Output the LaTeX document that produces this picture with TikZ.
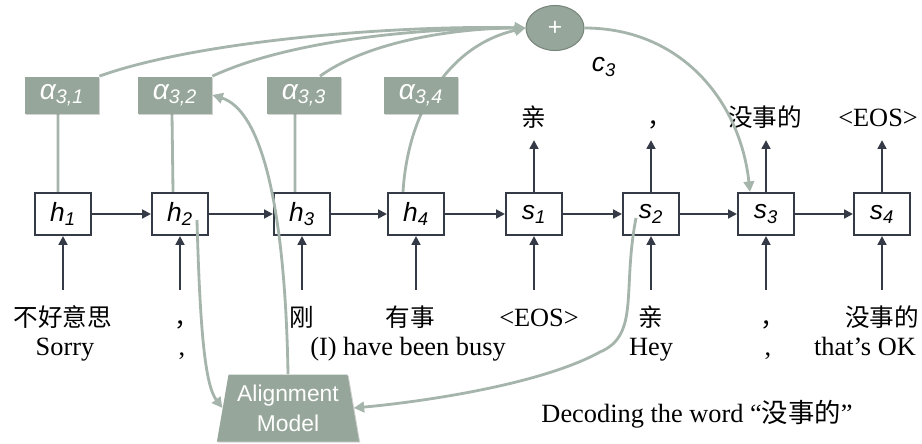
\documentclass[tikz,border=0pt]{standalone}
\usepackage{fontspec}
\setmainfont{Liberation Serif}
\setsansfont{Liberation Sans}
\newfontfamily\cjk{Noto Sans CJK SC}
\usepackage{xcolor}
\usepackage{tikz}
\usetikzlibrary{arrows.meta, shapes.geometric, shadows, backgrounds}

\definecolor{boxgray}{RGB}{150,166,154}
\definecolor{linegray}{RGB}{166,181,171}
\definecolor{darkline}{RGB}{52,58,70}

\begin{document}
\begin{tikzpicture}[x=0.02cm, y=-0.02cm,
  cell/.style={draw=darkline, line width=1.2pt, fill=white, inner sep=0pt,
    minimum width=1.12cm, minimum height=0.84cm,
    font=\sffamily\itshape\fontsize{15}{18}\selectfont},
  weight/.style={fill=boxgray, text=white, inner sep=0pt,
    minimum width=1.48cm, minimum height=0.74cm,
    font=\sffamily\itshape\fontsize{16}{19}\selectfont,
    drop shadow={shadow xshift=0.7pt, shadow yshift=-0.7pt, opacity=0.35}},
  sumnode/.style={ellipse, fill=boxgray, draw=boxgray!80!black, line width=0.6pt,
    minimum width=1.16cm, minimum height=0.9cm, text=white,
    font=\sffamily\fontsize{14}{16}\selectfont},
  model/.style={trapezium, trapezium stretches=true, trapezium left angle=78,
    trapezium right angle=78, fill=boxgray, text=white, align=center,
    minimum width=2.86cm, minimum height=1.34cm, inner sep=0pt,
    font=\sffamily\fontsize{13}{17}\selectfont,
    drop shadow={shadow xshift=0.7pt, shadow yshift=-0.7pt, opacity=0.35}},
  word/.style={anchor=base, inner sep=0pt, text height=10pt, text depth=3pt,
    font=\fontsize{15}{17}\selectfont},
  cword/.style={word, font=\cjk\fontsize{14}{16}\selectfont},
  darr/.style={draw=darkline, line width=1.2pt, -{Triangle[length=5pt,width=5pt]}},
  gline/.style={draw=linegray, line width=1.6pt},
  garr/.style={gline, -{Triangle[length=6pt,width=6pt]}}]
  \useasboundingbox (0,0) rectangle (922,443);

  % encoder cells h and decoder cells s
  \foreach \n/\x in {1/63, 2/180, 3/302, 4/416}
    \node[cell] (h\n) at (\x,214) {h\textsubscript{\n}};
  \foreach \n/\x in {1/534, 2/651, 3/766, 4/882}
    \node[cell] (s\n) at (\x,214) {s\textsubscript{\n}};
  \foreach \a/\b in {h1/h2, h2/h3, h3/h4, h4/s1, s1/s2, s2/s3, s3/s4}
    \draw[darr] (\a) -- (\b);

  % attention weights, sum and context
  \foreach \n/\x in {1/62, 2/175, 3/304, 4/421}
    \node[weight] (a\n) at (\x,95) {α\textsubscript{3,\n}};
  \node[sumnode] (plus) at (555,28) {+};
  \node[font=\sffamily\itshape\fontsize{15}{18}\selectfont] (c3) at (604,67) {c\textsubscript{3}};
  \node[model] (align) at (288,408) {Alignment\\Model};

  % input words
  \node[cword] (x1) at (63,326) {不好意思};
  \node[cword] (x2) at (187,326) {，};
  \node[cword] (x3) at (302,326) {刚};
  \node[cword] (x4) at (410,326) {有事};
  \node[word]  (x5) at (539,326) {<EOS>};
  \node[cword] (x6) at (651,326) {亲};
  \node[cword] (x7) at (773,326) {，};
  \node[cword] (x8) at (882,326) {没事的};
  \node[word] (e1) at (65,355) {Sorry};
  \node[word] (e2) at (182,355) {,};
  \node[word] (e4) at (408,355) {(I) have been busy};
  \node[word] (e6) at (651,355) {Hey};
  \node[word] (e7) at (768,355) {,};
  \node[word] (e8) at (865,355) {that’s OK};

  % output words
  \node[cword] (y1) at (534,126) {亲};
  \node[cword] (y2) at (660,126) {，};
  \node[cword] (y3) at (765,126) {没事的};
  \node[word]  (y4) at (878,126) {<EOS>};

  \node[word] (cap) at (697,422) {Decoding the word “{\cjk 没事的}”};

  \foreach \n/\c in {1/h1, 2/h2, 3/h3, 4/h4, 5/s1, 6/s2, 7/s3, 8/s4}
    \draw[darr, shorten <=0.37cm] (x\n.north -| \c) -- (\c.south);
  \foreach \n/\c in {1/s1, 2/s2, 3/s3, 4/s4}
    \draw[darr, shorten >=0.17cm] (\c.north) -- (y\n.south -| \c);

  % weights into the sum, behind the boxes
  \begin{scope}[on background layer]
    \draw[gline] ([xshift=-0.1cm]h1.north) -- ([xshift=-0.08cm]a1.south);
    \draw[gline] ([xshift=-0.14cm]h2.north) -- ([xshift=-0.06cm]a2.south);
    \draw[gline] ([xshift=-0.14cm]h3.north) -- ([xshift=-0.18cm]a3.south);
    \draw[garr] ([xshift=-0.26cm]h4.north) .. controls (408,110) and (450,45) .. (plus.west);
    \draw[garr] (a1.north east) .. controls (200,40) and (400,25) .. (plus.west);
    \draw[garr] (a2.north east) .. controls (290,40) and (420,28) .. (plus.west);
    \draw[garr] ([xshift=0.32cm]a3.north) .. controls (370,40) and (460,28) .. (plus.west);
  \end{scope}

  % context into s3, alignment model
  \draw[garr] (plus.east) .. controls (680,28) and (740,100) .. ([xshift=-0.32cm]s3.north);
  \draw[garr] ([shift={(0.34cm,-0.12cm)}]h2.center) .. controls (200,330) and (205,385) .. (align.west);
  \draw[garr] (align.north) .. controls (285,200) and (260,110) .. (a2.east);
  \draw[garr] ([shift={(-0.3cm,-0.08cm)}]s2.center) .. controls (622,290) and (640,335) .. (600,352)
    .. controls (540,385) and (420,402) .. (align.east);
\end{tikzpicture}
\end{document}
